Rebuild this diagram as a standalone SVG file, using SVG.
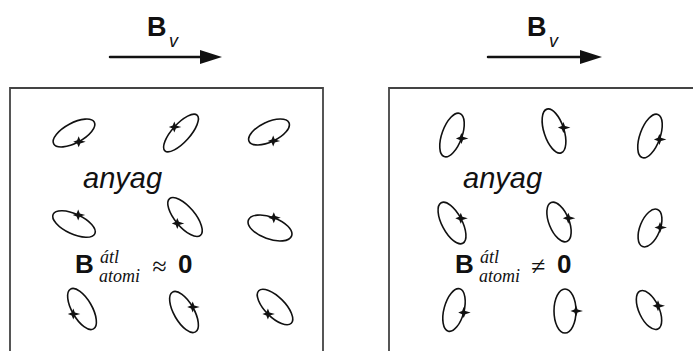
<svg xmlns="http://www.w3.org/2000/svg" xmlns:xlink="http://www.w3.org/1999/xlink" width="693" height="351" viewBox="0 0 693 351">
  <style>
    .frame { fill: none; stroke: #444; stroke-width: 1.8; }
    .orbit { fill: none; stroke: #111; stroke-width: 1.6; }
    .spin { fill: #111; }
    .bold { font-family: "Liberation Sans", Arial, sans-serif; font-weight: bold; fill: #111; }
    .ital { font-family: "Liberation Sans", Arial, sans-serif; font-style: italic; fill: #111; }
    .serif { font-family: "Liberation Serif", "DejaVu Serif", "Times New Roman", serif; font-style: italic; fill: #111; }
    .shaft { stroke: #111; stroke-width: 2.5; stroke-linecap: round; }
    .head { fill: #111; }
  </style>
  <defs>
    <!-- four-pointed mark sitting on each electron orbit -->
    <path id="spin" class="spin" d="M0,-5.5 L1.6,-1.6 L7,0 L1.6,1.6 L0,5.5 L-1.6,1.6 L-5.5,0 L-1.6,-1.6 Z"/>
  </defs>

  <rect width="693" height="351" fill="#fff"/>

  <!-- external field arrows with B_v labels -->
  <g id="field-arrows">
    <line class="shaft" x1="110" y1="57" x2="202" y2="57"/>
    <polygon class="head" points="200,50 222,57 200,64"/>
    <line class="shaft" x1="488" y1="57" x2="582" y2="57"/>
    <polygon class="head" points="580,50 602,57 580,64"/>
  </g>
  <g id="label-bv-left">
    <text class="bold" x="147" y="36" font-size="27">B</text>
    <text class="ital" x="169" y="47" font-size="18">v</text>
  </g>
  <g id="label-bv-right">
    <text class="bold" x="527" y="36" font-size="27">B</text>
    <text class="ital" x="549" y="47" font-size="18">v</text>
  </g>

  <!-- left panel: randomly oriented atomic orbits -->
  <g id="panel-left">
    <path class="frame" d="M10,360 V88 H323 V360"/>
    <g id="atom-l1"><ellipse class="orbit" cx="0" cy="0" rx="23" ry="10" transform="translate(74,133) rotate(-28)"/><use xlink:href="#spin" x="78.7" y="141.8"/></g>
    <g id="atom-l2"><ellipse class="orbit" cx="0" cy="0" rx="24" ry="9" transform="translate(181,133) rotate(-48)"/><use xlink:href="#spin" x="174.3" y="127"/></g>
    <g id="atom-l3"><ellipse class="orbit" cx="0" cy="0" rx="22" ry="10" transform="translate(269,132) rotate(-25)"/><use xlink:href="#spin" x="273.2" y="141"/></g>
    <g id="atom-l4"><ellipse class="orbit" cx="0" cy="0" rx="23" ry="10" transform="translate(74,224) rotate(25)"/><use xlink:href="#spin" x="78.2" y="215"/></g>
    <g id="atom-l5"><ellipse class="orbit" cx="0" cy="0" rx="24" ry="10" transform="translate(185,217) rotate(50)"/><use xlink:href="#spin" x="177.3" y="223.4"/></g>
    <g id="atom-l6"><ellipse class="orbit" cx="0" cy="0" rx="23" ry="11" transform="translate(270,228) rotate(20)"/><use xlink:href="#spin" x="273.8" y="217.7"/></g>
    <g id="atom-l7"><ellipse class="orbit" cx="0" cy="0" rx="23" ry="10" transform="translate(82,309) rotate(60)"/><use xlink:href="#spin" x="73.3" y="314"/></g>
    <g id="atom-l8"><ellipse class="orbit" cx="0" cy="0" rx="23" ry="10" transform="translate(184,312) rotate(60)"/><use xlink:href="#spin" x="192.7" y="307"/></g>
    <g id="atom-l9"><ellipse class="orbit" cx="0" cy="0" rx="23" ry="10" transform="translate(275,307) rotate(45)"/><use xlink:href="#spin" x="267.9" y="314"/></g>
    <text class="ital" x="83" y="188" font-size="29">anyag</text>
    <g id="eq-left">
      <text class="bold" x="75" y="273" font-size="26">B</text>
      <text class="serif" x="100" y="263" font-size="18">átl</text>
      <text class="serif" x="99" y="282" font-size="18">atomi</text>
      <text class="serif" x="152" y="275" font-size="26">≈</text>
      <text class="bold" x="178" y="273" font-size="26">0</text>
    </g>
  </g>

  <!-- right panel: orbits turned by the field -->
  <g id="panel-right">
    <path class="frame" d="M389,360 V88 H700"/>
    <g id="atom-r1"><ellipse class="orbit" cx="0" cy="0" rx="23" ry="10" transform="translate(452,135) rotate(-70)"/><use xlink:href="#spin" x="461.4" y="138.4"/></g>
    <g id="atom-r2"><ellipse class="orbit" cx="0" cy="0" rx="23" ry="10" transform="translate(554,131) rotate(72)"/><use xlink:href="#spin" x="563.4" y="127.6"/></g>
    <g id="atom-r3"><ellipse class="orbit" cx="0" cy="0" rx="23" ry="10" transform="translate(650,136) rotate(-70)"/><use xlink:href="#spin" x="659.4" y="139.4"/></g>
    <g id="atom-r4"><ellipse class="orbit" cx="0" cy="0" rx="23" ry="10" transform="translate(452,223) rotate(62)"/><use xlink:href="#spin" x="460.8" y="218.3"/></g>
    <g id="atom-r5"><ellipse class="orbit" cx="0" cy="0" rx="21" ry="10" transform="translate(559,222) rotate(68)"/><use xlink:href="#spin" x="568.3" y="218.2"/></g>
    <g id="atom-r6"><ellipse class="orbit" cx="0" cy="0" rx="20" ry="10" transform="translate(650,228) rotate(-68)"/><use xlink:href="#spin" x="660" y="227.5"/></g>
    <g id="atom-r7"><ellipse class="orbit" cx="0" cy="0" rx="22" ry="10" transform="translate(454,310) rotate(-75)"/><use xlink:href="#spin" x="463.7" y="312.6"/></g>
    <g id="atom-r8"><ellipse class="orbit" cx="0" cy="0" rx="22" ry="11" transform="translate(565,311) rotate(-90)"/><use xlink:href="#spin" x="576" y="311"/></g>
    <g id="atom-r9"><ellipse class="orbit" cx="0" cy="0" rx="21" ry="10" transform="translate(649,310) rotate(65)"/><use xlink:href="#spin" x="658" y="305.8"/></g>
    <text class="ital" x="463" y="188" font-size="29">anyag</text>
    <g id="eq-right">
      <text class="bold" x="455" y="273" font-size="26">B</text>
      <text class="serif" x="480" y="263" font-size="18">átl</text>
      <text class="serif" x="479" y="282" font-size="18">atomi</text>
      <text class="serif" x="531" y="275" font-size="26">≠</text>
      <text class="bold" x="557" y="273" font-size="26">0</text>
    </g>
  </g>
</svg>
